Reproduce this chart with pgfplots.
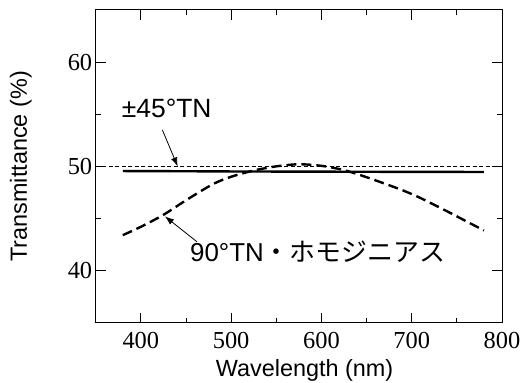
\documentclass[border=0pt]{standalone}
\usepackage{fontspec}
\setmainfont{Liberation Sans}
\newfontfamily\serif{Liberation Serif}
\newfontfamily\cjk{Noto Sans CJK JP}
\usepackage{pgfplots}
\pgfplotsset{compat=1.18}
\usetikzlibrary{arrows.meta}
\begin{document}
\begin{tikzpicture}
\begin{axis}[
  at={(0,0)}, anchor=south west,
  scale only axis, width=406.3bp, height=312.7bp,
  xmin=350, xmax=800, ymin=35, ymax=65,
  xtick={400,500,600,700,800},
  minor xtick={450,550,650,750},
  ytick={40,50,60},
  minor ytick={45,55},
  tick align=inside,
  major tick length=10bp, minor tick length=5bp,
  axis line style={line width=1bp},
  tick style={line width=0.9bp, black},
  /pgf/number format/assume math mode=true,
  /pgf/number format/1000 sep={},
  ticklabel style={font=\serif\fontsize{24.5}{24.5}\selectfont},
  xticklabel style={anchor=base, yshift=-25.5bp},
  xlabel={Wavelength (nm)},
  ylabel={Transmittance (\%)},
  label style={font=\fontsize{23.5}{26}\selectfont},
  xlabel style={at={(axis description cs:0.514,0)}, anchor=base, yshift=-53.3bp},
  ylabel style={at={(axis description cs:-0.184,0.5)}, anchor=center},
]
\addplot[black, line width=0.7bp, dash pattern=on 4bp off 2.5bp] coordinates {(350,50) (800,50)};
\addplot[black, line width=2.4bp] coordinates {
(380,49.55) (450,49.53) (500,49.51) (550,49.5) (600,49.49) (650,49.48) (700,49.47) (780,49.46)};
\addplot[black, line width=2.4bp, dash pattern=on 10bp off 5bp, smooth] coordinates {
(380,43.4) (400,44.2) (425,45.35) (451,46.8) (480,48.3) (500,49.0) (525,49.6) (550,50.0)
(575,50.2) (600,50.05) (622,49.7) (640,49.25) (665,48.5) (690,47.7) (710,46.95) (740,45.65)
(760,44.75) (780,43.85)};
\draw[line width=0.8bp, -{Latex[length=9bp,width=6.5bp]}] (axis cs:423.8,53.5) -- (axis cs:440.8,50.0);
\draw[line width=0.8bp, -{Latex[length=9bp,width=6.5bp]}] (axis cs:462.2,42.76) -- (axis cs:426.7,45.2);
\node[anchor=base west, inner sep=0pt, font=\fontsize{26.5}{28}\selectfont] at (axis cs:378.8,54.65) {±45°TN};
\node[anchor=base west, inner sep=0pt, font=\fontsize{26}{28}\selectfont] at (axis cs:454.4,40.84) {90°TN{\cjk ・ホモジニアス}};
\end{axis}
\pgfresetboundingbox
\path[use as bounding box] (-95.7bp,-60.3bp) rectangle (426.3bp,322.7bp);
\end{tikzpicture}
\end{document}
